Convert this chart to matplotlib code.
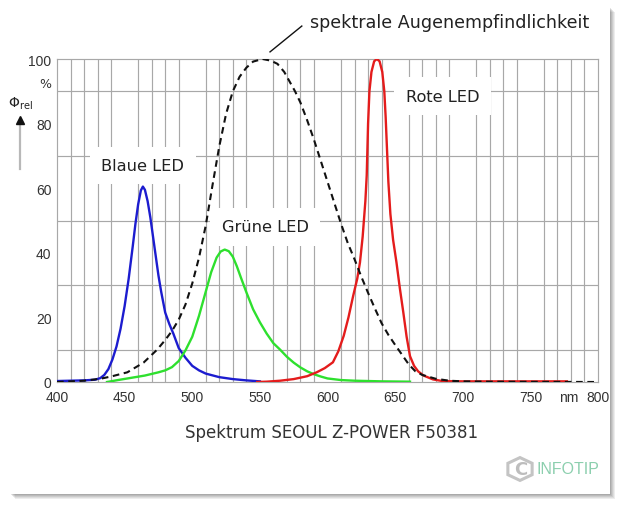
import numpy as np
import matplotlib
matplotlib.use("Agg")
from matplotlib import pyplot as plt
from matplotlib.patches import Rectangle, RegularPolygon
from matplotlib.lines import Line2D

# Blue LED spectrum (wavelength nm, relative %)
blue_wl = [400, 410, 420, 428, 432, 435, 438, 441, 444, 447, 450, 453, 456, 458, 460, 462, 463.5,
           465, 467, 469, 471, 473, 475, 477, 480, 483, 486, 490, 495, 500, 505, 510, 520, 530,
           540, 550]
blue_val = [0.3, 0.4, 0.5, 0.7, 1.2, 2.2, 4, 7, 11, 16.5, 23.5, 32, 42, 49, 55, 59.3, 60.5,
            59.5, 56, 51, 45, 39, 33, 28, 21.5, 18, 15, 10.5, 7.5, 5, 3.6, 2.6, 1.5, 0.9,
            0.5, 0.2]

# Green LED spectrum
green_wl = [437, 445, 455, 465, 475, 480, 485, 490, 495, 500, 505, 510, 514, 518, 521, 524, 527,
            530, 533, 536, 540, 545, 550, 555, 560, 565, 570, 575, 580, 585, 590, 595, 600,
            610, 620, 640, 661]
green_val = [0, 0.6, 1.3, 2, 3, 3.6, 4.6, 6.5, 9.8, 14, 20.5, 28, 34, 38.5, 40.4, 41, 40.5,
             38.8, 35.8, 32.3, 27.8, 22.5, 18.5, 15, 12, 10, 7.8, 6, 4.5, 3.3, 2.4, 1.7, 1.1,
             0.6, 0.4, 0.2, 0.1]

# Red LED spectrum
red_wl = [548, 555, 565, 575, 585, 592, 598, 604, 608, 612, 615.5, 619, 622, 624, 626, 628, 629,
          630, 631, 632.5, 634.5, 636.5, 638.5, 640.5, 642, 643, 644, 645, 646.5, 648.5, 651,
          653.5, 656, 658.5, 661, 664, 667, 671, 678, 685, 700, 740, 777]
red_val = [0, 0.1, 0.4, 0.9, 1.8, 3, 4.3, 6.1, 9.5, 14.3, 20, 26.7, 32, 37, 45, 56, 64,
           80, 90, 96, 99.3, 100, 99.3, 96, 90, 82, 72, 62, 52, 44, 37,
           29, 21.7, 14, 8, 5, 3.3, 2, 0.8, 0.3, 0.2, 0.2, 0.2]

# Spectral sensitivity of the eye
eye_wl = [400, 410, 420, 432, 440, 452, 464, 474, 480, 485, 490, 495, 500, 505, 510, 515, 520,
          525, 530, 535, 540, 545, 552, 558, 563, 568, 572, 576, 580, 585, 590, 595, 600, 605,
          610, 615, 620, 625, 630, 635, 640, 645, 650, 655, 660, 665, 670, 680, 690, 700, 720,
          800]
eye_val = [0, 0.2, 0.4, 1, 1.7, 3, 6, 10, 13, 15.8, 19.3, 24, 30.5, 38.5, 48.5, 61, 73,
           83, 90, 94.5, 97.3, 99.2, 100, 99.5, 98.5, 96, 93, 90, 86.5, 81, 75, 68.5, 62, 55.5,
           49, 43, 38, 32.6, 27.6, 22.8, 18.2, 14.6, 11.5, 8.5, 5.5, 3.3, 2.2, 1, 0.4, 0.2, 0.1,
           0]

xticks = [400, 450, 500, 550, 600, 650, 700, 750, 778, 800]
xtick_labels = ["400", "450", "500", "550", "600", "650", "700", "750", "nm", "800"]
yticks = [0, 20, 40, 60, 80, 100]

fig = plt.figure(figsize=(6.2, 5.06), dpi=100)
W, H = 620, 506

# card with soft shadow
for i, a in enumerate([0.10, 0.10, 0.12, 0.14, 0.16]):
    off = 5 - i
    fig.add_artist(Rectangle(((10 + off) / W, 1 - (495 + off) / H), 600 / W, 487 / H,
                             transform=fig.transFigure, color="#555555", alpha=a, lw=0, zorder=-3))
fig.add_artist(Rectangle((10 / W, 1 - 495 / H), 600 / W, 487 / H,
                         transform=fig.transFigure, color="white", lw=0, zorder=-2))

ax = fig.add_axes([57 / W, 1 - 383 / H, 541 / W, 323 / H])
ax.set_zorder(1)
ax.set_facecolor("none")
ax.set_xlim(400, 800)
ax.set_ylim(0, 100)

# 10 nm / 10 % grid only
gridc = "#a8a8a8"
ax.set_xticks(np.arange(400, 801, 10), minor=True)
ax.set_yticks(np.arange(0, 101, 10), minor=True)
ax.grid(False, which="major")
ax.grid(True, which="minor", color=gridc, lw=0.85)
ax.set_axisbelow(True)
for s in ax.spines.values():
    s.set_color(gridc)
    s.set_linewidth(0.85)

tick_font = ["Liberation Sans Narrow", "Liberation Sans", "DejaVu Sans"]
ax.set_xticks(xticks)
ax.set_xticklabels(xtick_labels, family=tick_font, fontsize=10, color="#333333")
ax.set_yticks(yticks)
ax.set_yticklabels([str(v) for v in yticks], family=tick_font, fontsize=10, color="#333333")
ax.tick_params(which="both", length=0)
ax.tick_params(axis="x", pad=6)
ax.tick_params(axis="y", pad=4)

ax.plot(blue_wl, blue_val, color="#1c1ccf", lw=1.7, zorder=3)
ax.plot(green_wl, green_val, color="#2ee02e", lw=1.7, zorder=3)
ax.plot(red_wl, red_val, color="#e41c1c", lw=1.7, zorder=3)
ax.plot(eye_wl, eye_val, color="#111111", lw=1.5, ls=(0, (3.2, 2.2)), zorder=4)

box = dict(boxstyle="square,pad=0.7", fc="white", ec="none")
lab = dict(fontsize=11.7, color="#222222", ha="center", va="center", zorder=5)
ax.text(463.5, 67, "Blaue LED", bbox=box, **lab)
ax.text(554, 48, "Grüne LED", bbox=box, **lab)
ax.text(685, 88.5, "Rote LED", bbox=box, **lab)

# annotation for eye sensitivity curve
ax.plot([581, 557.5], [110.2, 102.2], color="#111111", lw=1.0, clip_on=False)
ax.text(587, 111.6, "spektrale Augenempfindlichkeit", fontsize=12.6, color="#222222",
        ha="left", va="center", clip_on=False)

# y axis label
ax.text(-0.022, 0.925, "%", transform=ax.transAxes, ha="center", va="center",
        fontsize=9, color="#333333")
fig.text(20 / W, 1 - 104 / H, r"$\Phi_{\mathrm{rel}}$", ha="center", va="center",
         fontsize=10, color="#222222")
fig.add_artist(Line2D([20 / W, 20 / W], [1 - 170 / H, 1 - 124 / H],
                      transform=fig.transFigure, color="#b8b8b8", lw=1.6))
fig.add_artist(Line2D([20 / W], [1 - 121 / H], transform=fig.transFigure,
                      marker="^", color="#111111", ms=6, lw=0))

fig.text(332 / W, 1 - 433 / H, "Spektrum SEOUL Z-POWER F50381", ha="center", va="center",
         fontsize=12, color="#333333")

# logo
fig.add_artist(RegularPolygon((520 / W, 1 - 470 / H), 6, radius=14 / W, orientation=0,
                              transform=fig.transFigure, fill=False, ec="#c4c4c4", lw=2.2))
fig.text(521 / W, 1 - 470 / H, "C", ha="center", va="center", fontsize=13,
         color="#bdbdbd", fontweight="bold")
fig.text(568 / W, 1 - 470 / H, "INFOTIP", ha="center", va="center", fontsize=11.5,
         family=tick_font, color="#8ccfae")

fig.savefig("out.png", dpi=100)
